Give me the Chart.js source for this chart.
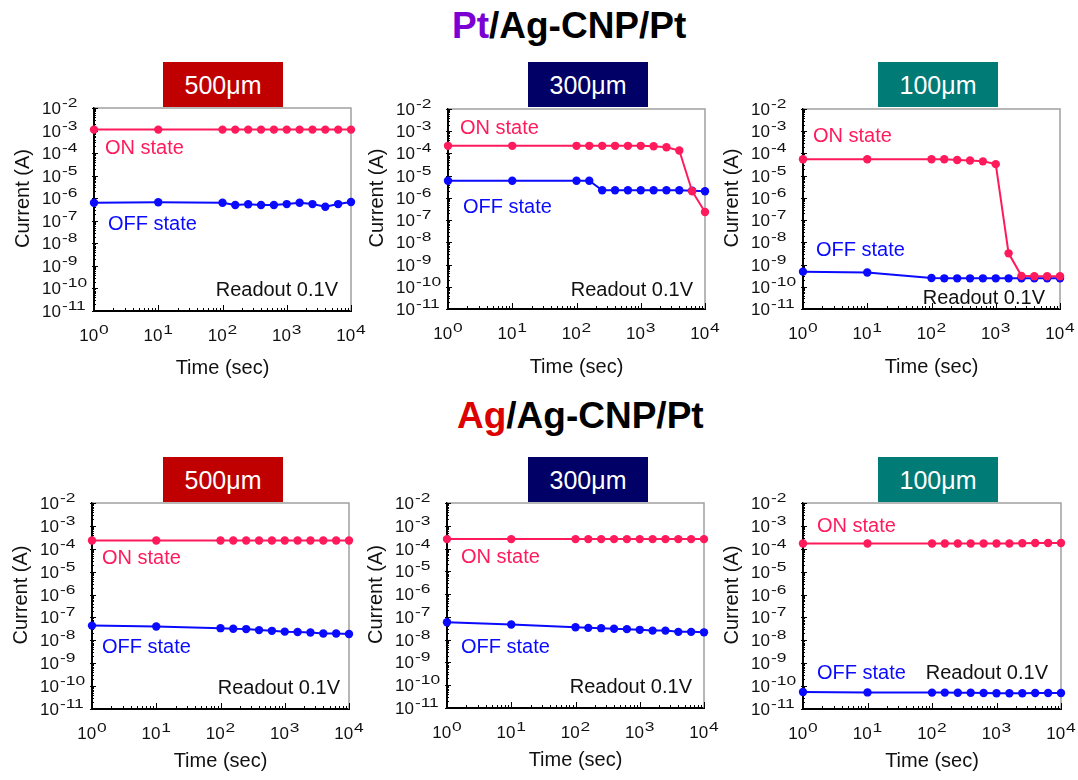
<!DOCTYPE html>
<html>
<head>
<meta charset="utf-8">
<title>Retention</title>
<script src="https://cdn.jsdelivr.net/npm/chart.js@4.4.1/dist/chart.umd.min.js"></script>
<style>
    body { margin: 0; background: #fff; font-family: "Liberation Sans", Arial, sans-serif; }
    #page { position: relative; width: 1078px; height: 780px; overflow: hidden; }
    .head { position: absolute; font-weight: bold; font-size: 37px; line-height: 37px; white-space: nowrap; color: #000; }
    .size { position: absolute; width: 120px; height: 45px; color: #fff; font-size: 25px; line-height: 46px; text-align: center; z-index: 2; }
    canvas { position: absolute; }
</style>
</head>
<body>
<div id="page">
    <div class="head" style="left:452px; top:7px;"><span style="color:#7a00d4">Pt</span>/Ag-CNP/Pt</div>
    <div class="head" style="left:457px; top:397px;"><span style="color:#dc0000">Ag</span>/Ag-CNP/Pt</div>

    <div class="size" style="left:163px; top:62px; background:#c00000;">500μm</div>
    <div class="size" style="left:528px; top:62px; background:#000066;">300μm</div>
    <div class="size" style="left:878px; top:62px; background:#007b76;">100μm</div>
    <div class="size" style="left:163px; top:457px; background:#c00000;">500μm</div>
    <div class="size" style="left:528px; top:457px; background:#000066;">300μm</div>
    <div class="size" style="left:878px; top:457px; background:#007b76;">100μm</div>

    <canvas id="c1"></canvas>
    <canvas id="c2"></canvas>
    <canvas id="c3"></canvas>
    <canvas id="c4"></canvas>
    <canvas id="c5"></canvas>
    <canvas id="c6"></canvas>
</div>

<script>
// read times (sec)
const timeSec = [1, 10, 100, 158, 251, 398, 631, 1000, 1585, 2512, 3981, 6310, 10000];

// Pt top electrode, current (A)
const ptOn500 = [1.1e-3, 1.1e-3, 1.1e-3, 1.1e-3, 1.1e-3, 1.1e-3, 1.1e-3, 1.1e-3, 1.1e-3, 1.1e-3, 1.1e-3, 1.1e-3, 1.1e-3];
const ptOff500 = [6.3e-7, 6.6e-7, 6.3e-7, 5.0e-7, 5.4e-7, 5.0e-7, 5.0e-7, 5.5e-7, 6.3e-7, 5.5e-7, 4.2e-7, 5.5e-7, 6.8e-7];
const ptOn300 = [2.2e-4, 2.2e-4, 2.2e-4, 2.2e-4, 2.2e-4, 2.2e-4, 2.2e-4, 2.2e-4, 2.1e-4, 1.9e-4, 1.35e-4, 2.0e-6, 2.3e-7];
const ptOff300 = [5.9e-6, 5.9e-6, 5.9e-6, 5.9e-6, 2.2e-6, 2.2e-6, 2.2e-6, 2.2e-6, 2.2e-6, 2.2e-6, 2.2e-6, 2.1e-6, 2.0e-6];
const ptOn100 = [5.5e-5, 5.5e-5, 5.5e-5, 5.5e-5, 5.1e-5, 4.8e-5, 4.4e-5, 3.3e-5, 3.2e-9, 3.1e-10, 3.0e-10, 3.0e-10, 3.0e-10];
const ptOff100 = [4.8e-10, 4.4e-10, 2.5e-10, 2.4e-10, 2.4e-10, 2.4e-10, 2.4e-10, 2.4e-10, 2.4e-10, 2.4e-10, 2.4e-10, 2.4e-10, 2.4e-10];

// Ag top electrode, current (A)
const agOn500 = [2.3e-4, 2.3e-4, 2.3e-4, 2.3e-4, 2.3e-4, 2.3e-4, 2.3e-4, 2.3e-4, 2.3e-4, 2.3e-4, 2.3e-4, 2.3e-4, 2.3e-4];
const agOff500 = [4.4e-8, 4.0e-8, 3.4e-8, 3.2e-8, 3.1e-8, 2.8e-8, 2.6e-8, 2.4e-8, 2.3e-8, 2.2e-8, 2.0e-8, 2.0e-8, 1.9e-8];
const agOn300 = [2.6e-4, 2.6e-4, 2.6e-4, 2.6e-4, 2.6e-4, 2.6e-4, 2.6e-4, 2.6e-4, 2.6e-4, 2.6e-4, 2.6e-4, 2.6e-4, 2.6e-4];
const agOff300 = [5.8e-8, 4.6e-8, 3.5e-8, 3.3e-8, 3.2e-8, 3.0e-8, 2.9e-8, 2.7e-8, 2.5e-8, 2.5e-8, 2.2e-8, 2.2e-8, 2.1e-8];
const agOn100 = [1.7e-4, 1.7e-4, 1.7e-4, 1.7e-4, 1.7e-4, 1.7e-4, 1.7e-4, 1.7e-4, 1.7e-4, 1.75e-4, 1.8e-4, 1.8e-4, 1.8e-4];
const agOff100 = [5.5e-11, 5.3e-11, 5.2e-11, 5.2e-11, 5.1e-11, 5.1e-11, 5.0e-11, 4.9e-11, 4.9e-11, 4.9e-11, 5.0e-11, 5.0e-11, 5.0e-11];

// axis decades and labels
const xExponents = [0, 1, 2, 3, 4];
const yExponents = [-2, -3, -4, -5, -6, -7, -8, -9, -10, -11];
const xTitle = 'Time (sec)';
const yTitle = 'Current (A)';
const onLabel = 'ON state';
const offLabel = 'OFF state';
const readLabel = 'Readout 0.1V';

const ON_COLOR = '#ff1a5c';
const OFF_COLOR = '#0a0aff';
const FONT = '"Liberation Sans", Arial, sans-serif';

// canvas box, plot area [left, top, right, bottom] and note offsets for each panel
const panels = [
    { id: 'c1', on: ptOn500, off: ptOff500, box: [0, 88, 372, 300], area: [94, 108, 351, 311],
      onAt: [11, 40], offAt: [14, 116], readAt: [-13, 182], titleGap: 63 },
    { id: 'c2', on: ptOn300, off: ptOff300, box: [358, 88, 372, 300], area: [448, 109, 705, 309],
      onAt: [12, 19], offAt: [15, 98], readAt: [-12, 181], titleGap: 64 },
    { id: 'c3', on: ptOn100, off: ptOff100, box: [716, 88, 362, 300], area: [803, 109, 1060, 309],
      onAt: [10, 27], offAt: [13, 141], readAt: [-15, 189], titleGap: 64 },
    { id: 'c4', on: agOn500, off: agOff500, box: [0, 483, 372, 297], area: [92, 503, 349, 709],
      onAt: [10, 55], offAt: [10, 144], readAt: [-9, 185], titleGap: 58 },
    { id: 'c5', on: agOn300, off: agOff300, box: [358, 483, 372, 297], area: [447, 503, 704, 708],
      onAt: [14, 54], offAt: [14, 144], readAt: [-12, 184], titleGap: 58 },
    { id: 'c6', on: agOn100, off: agOff100, box: [716, 483, 362, 297], area: [803, 503, 1061, 709],
      onAt: [14, 23], offAt: [14, 170], readAt: [-13, 170], titleGap: 58 }
];

// "10" with a raised exponent; anchor is the left edge or the centre of the whole label
function drawPower(ctx, exp, x, baseline, centred) {
    ctx.font = '17px ' + FONT;
    const baseW = ctx.measureText('10').width;
    ctx.font = '12px ' + FONT;
    const supW = ctx.measureText(String(exp)).width * 1.45;
    const total = baseW + 1 + supW;
    const x0 = centred ? x - total / 2 : x;
    ctx.textAlign = 'left';
    ctx.textBaseline = 'alphabetic';
    ctx.font = '17px ' + FONT;
    ctx.fillText('10', x0, baseline);
    ctx.save();
    ctx.translate(x0 + baseW + 1, baseline - 7);
    ctx.scale(1.45, 1);
    ctx.font = '12px ' + FONT;
    ctx.fillText(String(exp), 0, 0);
    ctx.restore();
}

const logAxes = {
    id: 'logAxes',
    beforeDatasetsDraw(chart) {
        const { ctx, chartArea: a, scales: { x, y } } = chart;
        ctx.save();
        // light frame on the top and right sides
        ctx.strokeStyle = '#a0a0a0';
        ctx.lineWidth = 1.5;
        ctx.beginPath();
        ctx.moveTo(a.left, a.top);
        ctx.lineTo(a.right, a.top);
        ctx.lineTo(a.right, a.bottom);
        ctx.stroke();

        // tick marks, decades long and the 2..9 steps short
        ctx.strokeStyle = '#000';
        ctx.lineWidth = 1;
        ctx.beginPath();
        xExponents.forEach(e => {
            const px = Math.round(x.getPixelForValue(Math.pow(10, e))) + 0.5;
            ctx.moveTo(px, a.bottom);
            ctx.lineTo(px, a.bottom - 6);
            if (e < 4) {
                for (let k = 2; k < 10; k++) {
                    const mx = Math.round(x.getPixelForValue(k * Math.pow(10, e))) + 0.5;
                    ctx.moveTo(mx, a.bottom);
                    ctx.lineTo(mx, a.bottom - 3);
                }
            }
        });
        yExponents.forEach(e => {
            const py = Math.round(y.getPixelForValue(Math.pow(10, e))) + 0.5;
            ctx.moveTo(a.left - 2, py);
            ctx.lineTo(a.left + 4, py);
            if (e < -2) {
                for (let k = 2; k < 10; k++) {
                    const my = Math.round(y.getPixelForValue(k * Math.pow(10, e))) + 0.5;
                    ctx.moveTo(a.left - 1, my);
                    ctx.lineTo(a.left + 2, my);
                }
            }
        });
        ctx.stroke();
        ctx.restore();
    },
    afterDraw(chart) {
        const { ctx, chartArea: a, scales: { x, y } } = chart;
        const p = chart.options.plugins.logAxes;
        ctx.save();
        ctx.fillStyle = '#111';

        xExponents.forEach(e => {
            drawPower(ctx, e, x.getPixelForValue(Math.pow(10, e)), a.bottom + 30, true);
        });
        yExponents.forEach(e => {
            drawPower(ctx, e, a.left - 52, y.getPixelForValue(Math.pow(10, e)) + 6, false);
        });

        ctx.font = '20px ' + FONT;
        ctx.textAlign = 'center';
        ctx.textBaseline = 'alphabetic';
        ctx.fillText(xTitle, (a.left + a.right) / 2, a.bottom + p.titleGap);

        ctx.save();
        ctx.translate(a.left - 71, (a.top + a.bottom) / 2 - 11);
        ctx.rotate(-Math.PI / 2);
        ctx.textBaseline = 'middle';
        ctx.fillText(yTitle, 0, 0);
        ctx.restore();

        // state notes and read voltage
        ctx.textBaseline = 'middle';
        ctx.textAlign = 'left';
        ctx.fillStyle = ON_COLOR;
        ctx.fillText(onLabel, a.left + p.onAt[0], a.top + p.onAt[1]);
        ctx.fillStyle = OFF_COLOR;
        ctx.fillText(offLabel, a.left + p.offAt[0], a.top + p.offAt[1]);
        ctx.textAlign = 'right';
        ctx.fillStyle = '#111';
        ctx.fillText(readLabel, a.right + p.readAt[0], a.top + p.readAt[1]);
        ctx.restore();
    }
};

function series(values, color) {
    return {
        data: values.map((v, i) => ({ x: timeSec[i], y: v })),
        borderColor: color,
        backgroundColor: color,
        borderWidth: 2,
        pointRadius: 4.2,
        pointBorderWidth: 0,
        tension: 0,
        clip: false
    };
}

panels.forEach(p => {
    const [cx, cy, w, h] = p.box;
    const [left, top, right, bottom] = p.area;
    const canvas = document.getElementById(p.id);
    canvas.width = w;
    canvas.height = h;
    canvas.style.left = cx + 'px';
    canvas.style.top = cy + 'px';

    new Chart(canvas.getContext('2d'), {
        type: 'line',
        data: {
            datasets: [series(p.on, ON_COLOR), series(p.off, OFF_COLOR)]
        },
        options: {
            responsive: false,
            animation: false,
            devicePixelRatio: 1,
            layout: {
                autoPadding: false,
                padding: { left: 0, top: top - cy, right: cx + w - right, bottom: 0 }
            },
            scales: {
                x: {
                    type: 'logarithmic',
                    min: 1,
                    max: 10000,
                    grid: { display: false },
                    ticks: { display: false },
                    border: { display: true, color: '#000', width: 2 },
                    afterFit(scale) { scale.height = cy + h - bottom; }
                },
                y: {
                    type: 'logarithmic',
                    min: 1e-11,
                    max: 1e-2,
                    grid: { display: false },
                    ticks: { display: false },
                    border: { display: true, color: '#000', width: 2 },
                    afterFit(scale) { scale.width = left - cx; }
                }
            },
            plugins: {
                legend: { display: false },
                tooltip: { enabled: false },
                logAxes: p
            }
        },
        plugins: [logAxes]
    });
});
</script>
</body>
</html>
